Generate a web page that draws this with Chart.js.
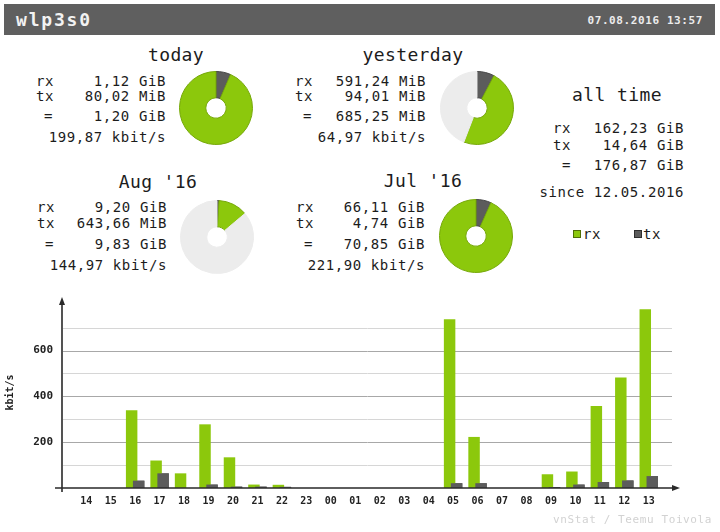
<!DOCTYPE html>
<html>
<head>
<meta charset="utf-8">
<title>wlp3s0</title>
<script src="https://cdn.jsdelivr.net/npm/chart.js@4.4.1/dist/chart.umd.min.js"></script>
<style>
    html, body { margin: 0; padding: 0; background: #fff; }
    #page { position: relative; width: 720px; height: 532px; overflow: hidden;
            font-family: "DejaVu Sans Mono", monospace; color: #1c1c1c; }
    .t { position: absolute; white-space: pre; }
    .header { position: absolute; left: 4px; top: 4px; width: 711px; height: 31px; background: #5f5f5f; }
    canvas { position: absolute; }
</style>
</head>
<body>
<div id="page">
    <div class="header"></div>
    <canvas id="bars" width="720" height="247" style="left:0;top:285px"></canvas>
</div>
<script>
// hourly rates, kbit/s (last 24 hours)
const hours = ['14','15','16','17','18','19','20','21','22','23','00','01','02','03','04','05','06','07','08','09','10','11','12','13'];
const rxRate = [0, 0, 339, 120, 64, 278, 134, 15, 14, 0, 0, 0, 0, 0, 0, 737, 223, 0, 0, 60, 72, 358, 483, 780];
const txRate = [0, 0, 32, 64, 0, 15, 6, 6, 5, 0, 0, 0, 0, 0, 0, 21, 21, 0, 0, 4, 15, 26, 33, 52];
const yLabels = [200, 400, 600];

// summary blocks
const periodTitles = ['today', 'yesterday', "Aug '16", "Jul '16"];
const periodRx = ['1,12 GiB', '591,24 MiB', '9,20 GiB', '66,11 GiB'];
const periodTx = ['80,02 MiB', '94,01 MiB', '643,66 MiB', '4,74 GiB'];
const periodTotal = ['1,20 GiB', '685,25 MiB', '9,83 GiB', '70,85 GiB'];
const periodRate = ['199,87 kbit/s', '64,97 kbit/s', '144,97 kbit/s', '221,90 kbit/s'];
// same amounts in MiB for the pies
const pieRx = [1146.88, 591.24, 9420.8, 67696.64];
const pieTx = [80.02, 94.01, 643.66, 4853.76];

const allTimeRows = [['rx', '162,23 GiB'], ['tx', '14,64 GiB'], [' =', '176,87 GiB']];

const rxColor = '#8cc80c';
const rxEdge = '#76a80a';
const txColor = '#5c5c5c';
const txEdge = '#474747';
const pieBack = '#ececec';
const mono = '"DejaVu Sans Mono", monospace';

const page = document.getElementById('page');

function put(text, x, y, opts) {
    opts = opts || {};
    const el = document.createElement('div');
    el.className = 't';
    el.textContent = text;
    const size = opts.size || 14;
    const lh = size + 4;
    el.style.fontSize = size + 'px';
    el.style.lineHeight = lh + 'px';
    el.style.top = (y - lh / 2) + 'px';
    if (opts.spacing) el.style.letterSpacing = opts.spacing + 'px';
    if (opts.bold) el.style.fontWeight = 'bold';
    if (opts.color) el.style.color = opts.color;
    if (opts.align === 'right') {
        el.style.right = (720 - x) + 'px';
    } else if (opts.align === 'center') {
        el.style.left = x + 'px';
        el.style.transform = 'translateX(-50%)';
    } else {
        el.style.left = x + 'px';
    }
    page.appendChild(el);
    return el;
}

// header
put('wlp3s0', 16, 20, { size: 18, bold: true, spacing: 1.8, color: '#f2f2f2' });
put('07.08.2016 13:57', 703, 20, { size: 11, bold: true, spacing: 0.6, color: '#ececec', align: 'right' });

// period blocks: title centre, label x, value right edge, row centres
const blocks = [
    { tx: 176, ty: 55, lx: 36, vx: 166, rows: [81, 96, 116, 137], px: 216, py: 108 },
    { tx: 413, ty: 55, lx: 295, vx: 426, rows: [81, 96, 116, 137], px: 477, py: 108 },
    { tx: 158, ty: 182, lx: 37, vx: 167, rows: [207, 223, 244, 265], px: 217, py: 237 },
    { tx: 423, ty: 181, lx: 296, vx: 425, rows: [207, 223, 244, 265], px: 476, py: 236 }
];

blocks.forEach((b, i) => {
    put(periodTitles[i], b.tx, b.ty, { size: 18, spacing: 0.4, align: 'center' });
    put('rx', b.lx, b.rows[0], { spacing: 0.6 });
    put('tx', b.lx, b.rows[1], { spacing: 0.6 });
    put('=', b.lx + 8, b.rows[2], { spacing: 0.6 });
    put(periodRx[i], b.vx, b.rows[0], { spacing: 0.6, align: 'right' });
    put(periodTx[i], b.vx, b.rows[1], { spacing: 0.6, align: 'right' });
    put(periodTotal[i], b.vx, b.rows[2], { spacing: 0.6, align: 'right' });
    put(periodRate[i], b.vx, b.rows[3], { spacing: 0.6, align: 'right' });
});

// all time
put('all time', 617, 95, { size: 18, spacing: 0.4, align: 'center' });
[128, 145, 165].forEach((y, i) => {
    put(allTimeRows[i][0], 553, y, { spacing: 0.6 });
    put(allTimeRows[i][1], 684, y, { spacing: 0.6, align: 'right' });
});
put('since 12.05.2016', 684, 192, { spacing: 0.6, align: 'right' });

// legend
function swatch(x, y, fill, edge) {
    const s = document.createElement('div');
    s.style.cssText = 'position:absolute;left:' + x + 'px;top:' + y + 'px;width:6px;height:6px;background:' +
        fill + ';border:1px solid ' + edge + ';';
    page.appendChild(s);
}
swatch(573, 230, rxColor, '#4f6f05');
put('rx', 583, 234, { spacing: 0.6 });
swatch(634, 230, txColor, '#2e2e2e');
put('tx', 643, 234, { spacing: 0.6 });

put('vnStat / Teemu Toivola', 712, 519, { size: 11, spacing: 0.6, color: '#d2d2d2', align: 'right' });

// pies: today vs yesterday and this month vs last month share one full circle
blocks.forEach((b, i) => {
    const pair = i < 2 ? [0, 1] : [2, 3];
    const full = Math.max(...pair.map(k => pieRx[k] + pieTx[k]));
    const rest = Math.max(0, full - pieRx[i] - pieTx[i]);
    const c = document.createElement('canvas');
    c.width = 74;
    c.height = 74;
    c.style.left = (b.px - 37) + 'px';
    c.style.top = (b.py - 37) + 'px';
    page.appendChild(c);
    new Chart(c, {
        type: 'doughnut',
        data: {
            labels: ['tx', 'rx', ''],
            datasets: [{
                data: [pieTx[i], pieRx[i], rest],
                backgroundColor: [txColor, rxColor, pieBack],
                borderColor: [txEdge, rxEdge, pieBack],
                borderWidth: 1
            }]
        },
        options: {
            responsive: false,
            animation: false,
            events: [],
            cutout: '28%',
            plugins: { legend: { display: false }, tooltip: { enabled: false } }
        }
    });
});

// guide lines behind the bars, tx bars redrawn over rx, then axes with arrows
const vnAxes = {
    id: 'vnAxes',
    beforeDatasetsDraw(chart) {
        const { ctx, chartArea: a } = chart;
        const y = chart.scales.y;
        ctx.save();
        ctx.lineWidth = 1;
        y.ticks.forEach(t => {
            if (t.value <= 0) return;
            const py = Math.round(y.getPixelForValue(t.value)) + 0.5;
            ctx.strokeStyle = t.value % 200 === 0 ? '#a8a8a8' : '#d6d6d6';
            ctx.beginPath();
            ctx.moveTo(a.left - 11, py);
            ctx.lineTo(a.right + 11, py);
            ctx.stroke();
        });
        ctx.restore();
    },
    afterDatasetsDraw(chart) {
        const { ctx, chartArea: a } = chart;
        chart.getDatasetMeta(1).controller.draw();

        const ax = a.left - 12;
        const ay = a.bottom;
        ctx.save();
        ctx.strokeStyle = '#2a2a2a';
        ctx.fillStyle = '#2a2a2a';
        ctx.lineWidth = 1.6;
        ctx.beginPath();
        ctx.moveTo(ax, ay + 4);
        ctx.lineTo(ax, a.top + 6);
        ctx.moveTo(ax - 7, ay);
        ctx.lineTo(a.right + 13, ay);
        ctx.stroke();
        ctx.beginPath();
        ctx.moveTo(ax, a.top);
        ctx.lineTo(ax - 3, a.top + 8);
        ctx.lineTo(ax + 3, a.top + 8);
        ctx.closePath();
        ctx.fill();
        ctx.beginPath();
        ctx.moveTo(a.right + 19, ay);
        ctx.lineTo(a.right + 11, ay - 3);
        ctx.lineTo(a.right + 11, ay + 3);
        ctx.closePath();
        ctx.fill();
        ctx.restore();
    }
};

new Chart(document.getElementById('bars'), {
    type: 'bar',
    data: {
        labels: hours,
        datasets: [
            { label: 'rx', data: rxRate, backgroundColor: rxColor,
              categoryPercentage: 0.572, barPercentage: 1.64 },
            { label: 'tx', data: txRate, backgroundColor: txColor,
              categoryPercentage: 0.572, barPercentage: 1.64 }
        ]
    },
    options: {
        responsive: false,
        animation: false,
        events: [],
        layout: { padding: { top: 12, right: 59, left: 0, bottom: 0 } },
        plugins: { legend: { display: false }, tooltip: { enabled: false } },
        scales: {
            x: {
                grid: { display: false, drawTicks: false },
                border: { display: false },
                ticks: { autoSkip: false, maxRotation: 0, padding: 7, color: '#222',
                         font: { family: mono, size: 10, weight: 'bold' } },
                afterFit: s => { s.height = 44; }
            },
            y: {
                min: 0,
                max: 834,
                bounds: 'data',
                grid: { display: false, drawTicks: true, tickLength: 21 },
                border: { display: false },
                ticks: { stepSize: 100, padding: 0, color: '#222',
                         font: { family: mono, size: 11, weight: 'bold' },
                         callback: v => yLabels.includes(v) ? String(v) : '' },
                afterBuildTicks: s => { s.ticks = s.ticks.filter(t => t.value <= 700); },
                afterFit: s => { s.width = 74; },
                title: { display: true, text: 'kbit/s', color: '#222', padding: { top: 4, bottom: 0 },
                         font: { family: mono, size: 10, weight: 'bold' } }
            }
        }
    },
    plugins: [vnAxes]
});
</script>
</body>
</html>
